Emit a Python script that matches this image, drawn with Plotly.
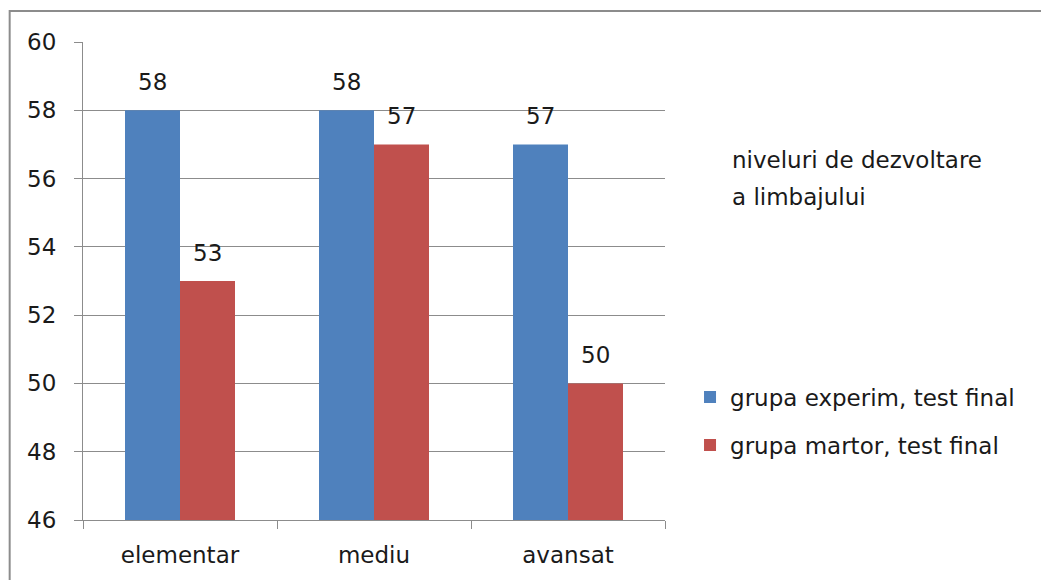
import plotly.graph_objects as go

categories = ["elementar", "mediu", "avansat"]
experim = [58, 58, 57]
martor = [53, 57, 50]
series_names = ["grupa experim, test final", "grupa martor, test final"]
legend_title_lines = ["niveluri de dezvoltare", "a limbajului"]
y_ticks = [46, 48, 50, 52, 54, 56, 58, 60]

FONT = "DejaVu Sans"
FS = 23
BLUE = "#4F81BD"
RED = "#C0504D"
TXT = "#1a1a1a"

fig = go.Figure()
fig.add_trace(go.Bar(x=categories, y=experim, name=series_names[0], marker_color=BLUE,
                     marker_line_width=0, legendgroup="a"))
fig.add_trace(go.Bar(x=categories, y=martor, name=series_names[1], marker_color=RED,
                     marker_line_width=0, legendgroup="b"))

# data labels
for vals, shift in ((experim, -27.5), (martor, 27.5)):
    for c, v in zip(categories, vals):
        fig.add_annotation(x=c, y=v, text=str(v), showarrow=False, xshift=shift,
                           yanchor="bottom", yshift=13,
                           font=dict(family=FONT, size=FS, color=TXT))

for i, line in enumerate(legend_title_lines):
    fig.add_annotation(xref="paper", yref="paper", x=1.112, y=0.753 - i * 0.077,
                       xanchor="left", yanchor="middle",
                       text=line, showarrow=False, align="left",
                       font=dict(family=FONT, size=FS, color=TXT))

# outer chart border
fig.add_shape(type="rect", xref="paper", yref="paper",
              x0=-0.126, x1=1.8, y0=-0.2, y1=1.065,
              line=dict(color="#8C8C8C", width=2), layer="below")

fig.update_layout(
    width=1041, height=580,
    margin=dict(l=83, r=376, t=42, b=60),
    paper_bgcolor="white", plot_bgcolor="white",
    barmode="group", bargap=0.433, bargroupgap=0,
    font=dict(family=FONT, size=FS, color=TXT),
    showlegend=True,
    legend=dict(x=1.043, y=0.207, xanchor="left", yanchor="middle",
                font=dict(family=FONT, size=FS, color=TXT),
                tracegroupgap=15, itemwidth=30),
)
fig.update_xaxes(showline=True, linecolor="#8C8C8C", linewidth=1,
                 ticks="outside", tickson="boundaries", ticklen=8, tickcolor="#8C8C8C",
                 showgrid=False, ticklabelstandoff=14,
                 tickfont=dict(family=FONT, size=FS, color=TXT))
fig.update_yaxes(range=[46, 60], tickvals=y_ticks, showline=True, linecolor="#8C8C8C", linewidth=1,
                 ticks="outside", ticklen=8, tickcolor="#8C8C8C",
                 showgrid=True, gridcolor="#8C8C8C", gridwidth=1, zeroline=False,
                 ticklabelstandoff=13,
                 tickfont=dict(family=FONT, size=FS, color=TXT))

fig.write_html("out.html")
